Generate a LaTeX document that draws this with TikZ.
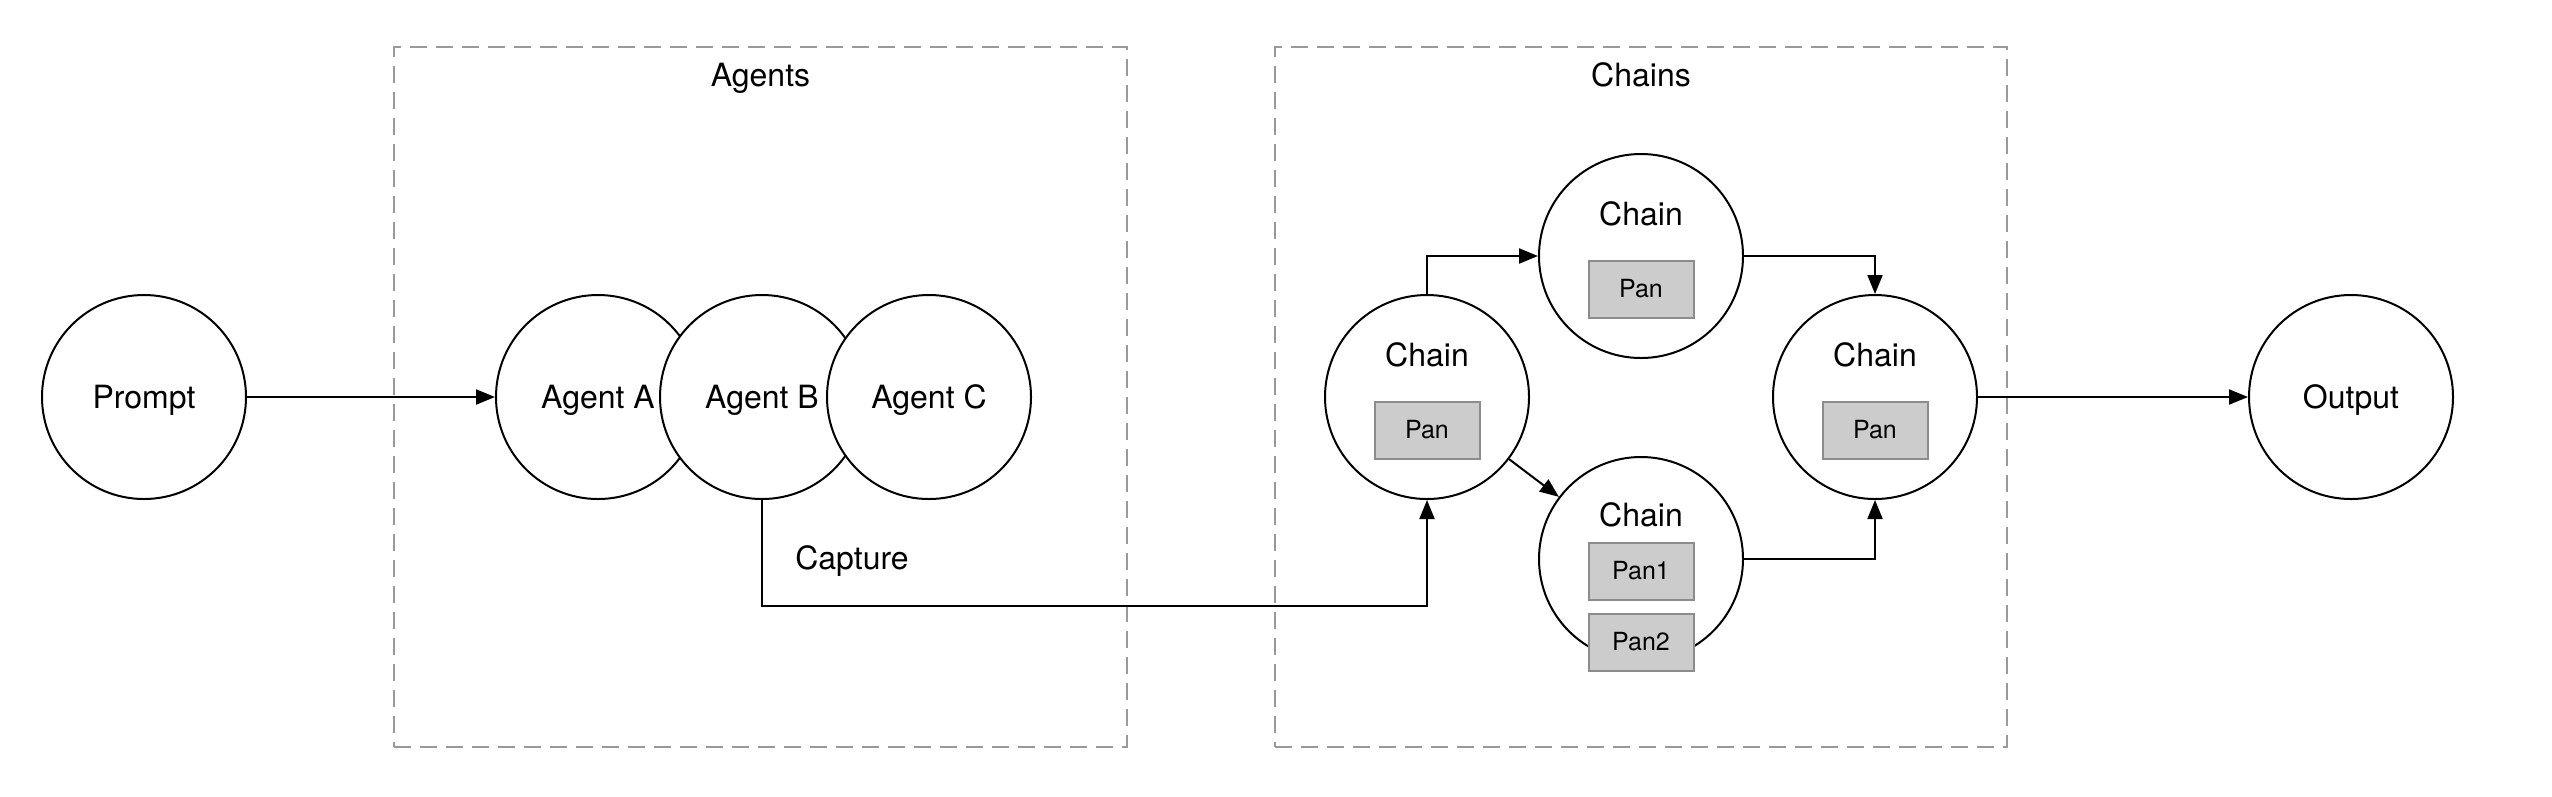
\documentclass[tikz,border=0pt]{standalone}
\usepackage{fontspec}
\setmainfont{TeX Gyre Heros}
\usetikzlibrary{arrows.meta,positioning}
\definecolor{groupline}{HTML}{999999}
\definecolor{panfill}{HTML}{CCCCCC}
\definecolor{panline}{HTML}{8C8C8C}
\tikzset{%
	bubble/.style     = {draw, circle, fill=white, line width=0.8pt, minimum size=81.6pt, inner sep=0pt, text depth=0pt},
	groupbox/.style   = {draw=groupline, line width=0.7pt, dash pattern=on 6.8pt off 3.6pt, minimum width=293pt, minimum height=280pt},
	grouptitle/.style = {anchor=base},
	chaintext/.style  = {anchor=base},
	panbox/.style     = {draw=panline, fill=panfill, line width=0.8pt, minimum width=42pt, minimum height=22.8pt, inner sep=0pt, font=\fontsize{10}{12}\selectfont},
	arrow/.style      = {line width=0.8pt, -{Triangle[length=7.6pt,width=6pt]}},
}

\begin{document}
\begin{tikzpicture}[x=0.4pt, y=-0.4pt, font=\fontsize{12.8}{15}\selectfont]
	\useasboundingbox (0,0) rectangle (2552,796);
	
	% dashed groups
	\node[groupbox] (agents) at (760.5,397) {};
	\node[groupbox] (chains) at (1641,397) {};
	\node[grouptitle] (agentstitle) at ([yshift=-16pt]agents.north) {Agents};
	\node[grouptitle] (chainstitle) at ([yshift=-16pt]chains.north) {Chains};
	
	% prompt and agents
	\node[bubble] (prompt) at (144,397) {Prompt};
	\node[bubble] (agentA) at (598,397) {Agent A};
	\node[bubble] (agentB) at (762,397) {Agent B};
	\node[bubble] (agentC) at (929,397) {Agent C};
	\node[text depth=0pt] (capture) at (852,558) {Capture};
	
	% chains
	\node[bubble] (chainL) at (1427,397) {};
	\node[chaintext] (chainLtext) at ([yshift=12.4pt]chainL.center) {Chain};
	\node[panbox] (panL) at ([yshift=-13.2pt]chainL.center) {Pan};
	
	\node[bubble] (chainT) at (1641,256) {};
	\node[chaintext] (chainTtext) at ([yshift=12.4pt]chainT.center) {Chain};
	\node[panbox] (panT) at ([yshift=-13.2pt]chainT.center) {Pan};
	
	\node[bubble] (chainB) at (1641,559) {};
	\node[chaintext] (chainBtext) at ([yshift=13.2pt]chainB.center) {Chain};
	\node[panbox] (panB1) at ([yshift=-4.8pt]chainB.center) {Pan1};
	\node[panbox, below=4.8pt of panB1] (panB2) {Pan2};
	
	\node[bubble] (chainR) at (1875,397) {};
	\node[chaintext] (chainRtext) at ([yshift=12.4pt]chainR.center) {Chain};
	\node[panbox] (panR) at ([yshift=-13.2pt]chainR.center) {Pan};
	
	\node[bubble] (output) at (2351,397) {Output};
	
	% connectors
	\draw[arrow] (prompt) -- (agentA);
	\coordinate (captureturn) at (762,606);
	\draw[arrow] (agentB.south) -- (captureturn) -| (chainL.south);
	\draw[arrow] (chainL.north) |- (chainT.west);
	\draw[arrow] (chainL) -- (chainB);
	\draw[arrow] (chainT.east) -| (chainR.north);
	\draw[arrow] (chainB.east) -| (chainR.south);
	\draw[arrow] (chainR) -- (output);
\end{tikzpicture}
\end{document}
